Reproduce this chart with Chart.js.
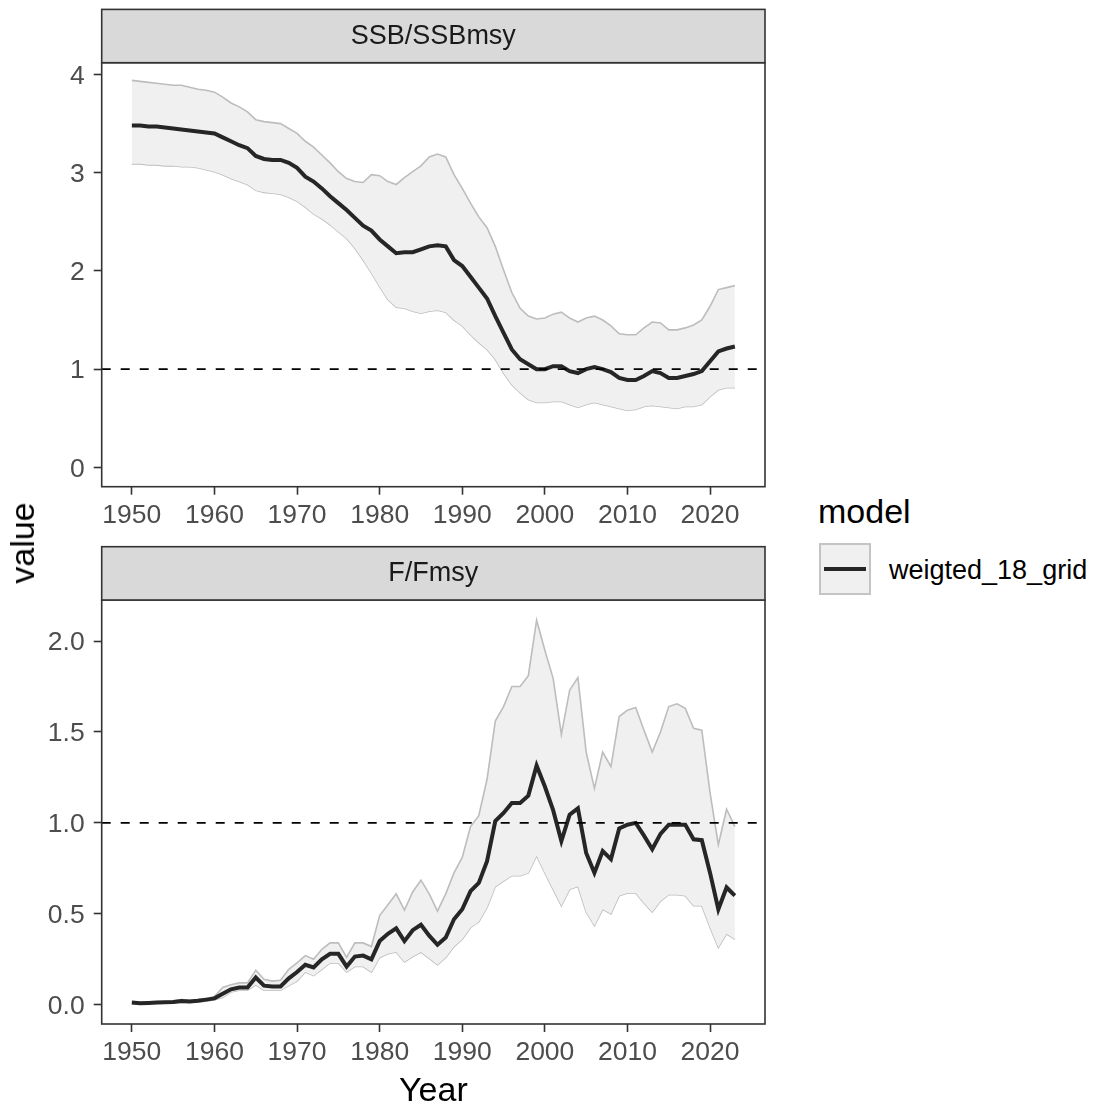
<!DOCTYPE html>
<html>
<head>
<meta charset="utf-8">
<script src="https://cdn.jsdelivr.net/npm/chart.js@4"></script>
<style>
  body { margin: 0; background: #fff; overflow: hidden; }
  #wrap { position: relative; width: 1096px; height: 1108px; font-family: "Liberation Sans", Arial, sans-serif; overflow: hidden; }
  canvas { position: absolute; left: 0; }
  #yTitle { position: absolute; left: 22px; top: 543px; transform: translate(-50%, -50%) rotate(-90deg); font-size: 34px; line-height: 34px; color: #000; white-space: nowrap; }
  #legTitle { position: absolute; left: 818px; top: 494px; font-size: 34px; line-height: 34px; color: #000; }
  #legKey { position: absolute; left: 819px; top: 543px; width: 48px; height: 48px; background: #f0f0f0; border: 2px solid #c4c4c4; }
  #legKey div { position: absolute; left: 3px; right: 3px; top: 22px; height: 4px; background: #262626; }
  #legText { position: absolute; left: 889px; top: 557px; font-size: 27px; line-height: 27px; color: #000; }
</style>
</head>
<body>
<div id="wrap">
  <canvas id="ssbChart" width="780" height="540" style="top:0"></canvas>
  <canvas id="fChart" width="780" height="572" style="top:540px"></canvas>
  <div id="yTitle">value</div>
  <div id="legTitle">model</div>
  <div id="legKey"><div></div></div>
  <div id="legText">weigted_18_grid</div>
</div>
<script>
/* ================= DATA ================= */

const years = [
  1950, 1951, 1952, 1953, 1954, 1955, 1956, 1957, 1958, 1959,
  1960, 1961, 1962, 1963, 1964, 1965, 1966, 1967, 1968, 1969,
  1970, 1971, 1972, 1973, 1974, 1975, 1976, 1977, 1978, 1979,
  1980, 1981, 1982, 1983, 1984, 1985, 1986, 1987, 1988, 1989,
  1990, 1991, 1992, 1993, 1994, 1995, 1996, 1997, 1998, 1999,
  2000, 2001, 2002, 2003, 2004, 2005, 2006, 2007, 2008, 2009,
  2010, 2011, 2012, 2013, 2014, 2015, 2016, 2017, 2018, 2019,
  2020, 2021, 2022, 2023
];

// SSB/SSBmsy
const ssbMed = [
  3.48, 3.48, 3.47, 3.47, 3.46, 3.45, 3.44, 3.43, 3.42, 3.41,
  3.40, 3.36, 3.32, 3.28, 3.25, 3.17, 3.14, 3.13, 3.13, 3.10,
  3.05, 2.96, 2.91, 2.84, 2.76, 2.69, 2.62, 2.54, 2.46, 2.41,
  2.32, 2.25, 2.18, 2.19, 2.19, 2.22, 2.25, 2.26, 2.25, 2.11,
  2.05, 1.94, 1.83, 1.72, 1.54, 1.37, 1.20, 1.10, 1.05, 1.00,
  1.00, 1.03, 1.03, 0.98, 0.96, 1.00, 1.02, 1.00, 0.97, 0.91,
  0.89, 0.89, 0.93, 0.98, 0.96, 0.91, 0.91, 0.93, 0.95, 0.98,
  1.08, 1.18, 1.21, 1.23
];
const ssbHi = [
  3.94, 3.93, 3.92, 3.91, 3.90, 3.89, 3.89, 3.87, 3.85, 3.84,
  3.82, 3.77, 3.71, 3.67, 3.62, 3.54, 3.52, 3.51, 3.50, 3.45,
  3.40, 3.32, 3.26, 3.18, 3.10, 3.01, 2.94, 2.91, 2.90, 2.98,
  2.97, 2.91, 2.88, 2.95, 3.01, 3.07, 3.16, 3.19, 3.16, 2.98,
  2.84, 2.69, 2.55, 2.44, 2.25, 2.01, 1.78, 1.62, 1.54, 1.51,
  1.52, 1.56, 1.58, 1.52, 1.48, 1.52, 1.54, 1.50, 1.44, 1.36,
  1.35, 1.35, 1.42, 1.48, 1.47, 1.40, 1.40, 1.42, 1.45, 1.50,
  1.64, 1.81, 1.83, 1.85
];
const ssbLo = [
  3.09, 3.09, 3.08, 3.08, 3.07, 3.07, 3.06, 3.06, 3.05, 3.03,
  3.01, 2.98, 2.94, 2.91, 2.88, 2.82, 2.80, 2.79, 2.78, 2.75,
  2.71, 2.65, 2.58, 2.53, 2.47, 2.40, 2.33, 2.23, 2.11, 1.98,
  1.84, 1.71, 1.63, 1.62, 1.59, 1.57, 1.59, 1.60, 1.58, 1.50,
  1.44, 1.35, 1.27, 1.20, 1.10, 0.96, 0.84, 0.76, 0.69, 0.66,
  0.66, 0.67, 0.67, 0.64, 0.61, 0.64, 0.66, 0.64, 0.62, 0.60,
  0.58, 0.59, 0.62, 0.63, 0.62, 0.61, 0.60, 0.62, 0.62, 0.64,
  0.72, 0.79, 0.81, 0.81
];

// F/Fmsy
const fMed = [
  0.012, 0.008, 0.010, 0.012, 0.013, 0.015, 0.020, 0.018, 0.022, 0.028,
  0.035, 0.06, 0.085, 0.095, 0.095, 0.15, 0.105, 0.10, 0.10, 0.145,
  0.18, 0.22, 0.205, 0.25, 0.28, 0.28, 0.21, 0.265, 0.27, 0.25,
  0.35, 0.39, 0.42, 0.35, 0.41, 0.44, 0.38, 0.33, 0.37, 0.47,
  0.525, 0.625, 0.67, 0.79, 1.01, 1.055, 1.11, 1.11, 1.15, 1.315,
  1.20, 1.07, 0.90, 1.045, 1.08, 0.835, 0.725, 0.845, 0.80, 0.97,
  0.99, 1.00, 0.93, 0.855, 0.94, 0.99, 0.99, 0.99, 0.91, 0.905,
  0.725, 0.525, 0.645, 0.60
];
const fHi = [
  0.015, 0.012, 0.014, 0.016, 0.017, 0.02, 0.028, 0.024, 0.028, 0.032,
  0.045, 0.095, 0.11, 0.12, 0.12, 0.19, 0.14, 0.13, 0.135, 0.195,
  0.23, 0.27, 0.25, 0.305, 0.34, 0.34, 0.26, 0.34, 0.34, 0.32,
  0.49, 0.55, 0.61, 0.52, 0.62, 0.685, 0.61, 0.515, 0.61, 0.725,
  0.81, 0.98, 1.04, 1.24, 1.56, 1.64, 1.75, 1.75, 1.81, 2.115,
  1.95, 1.795, 1.485, 1.73, 1.80, 1.39, 1.19, 1.39, 1.31, 1.585,
  1.62, 1.635, 1.51, 1.39, 1.50, 1.64, 1.655, 1.63, 1.52, 1.51,
  1.165, 0.88, 1.075, 0.98
];
const fLo = [
  0.005, 0.003, 0.005, 0.007, 0.008, 0.010, 0.012, 0.012, 0.015, 0.02,
  0.028, 0.04, 0.07, 0.08, 0.08, 0.11, 0.08, 0.08, 0.08, 0.105,
  0.13, 0.18, 0.16, 0.195, 0.23, 0.23, 0.18, 0.21, 0.21, 0.18,
  0.26, 0.28, 0.29, 0.235, 0.265, 0.29, 0.255, 0.22, 0.26, 0.32,
  0.36, 0.425, 0.455, 0.535, 0.65, 0.68, 0.71, 0.71, 0.725, 0.82,
  0.725, 0.635, 0.545, 0.635, 0.65, 0.51, 0.435, 0.525, 0.50, 0.60,
  0.615, 0.615, 0.56, 0.51, 0.57, 0.605, 0.605, 0.60, 0.545, 0.545,
  0.425, 0.315, 0.39, 0.36
];

const xTicks = [1950, 1960, 1970, 1980, 1990, 2000, 2010, 2020];
const ssbTicks = [0, 1, 2, 3, 4];
const fTicks = [0, 0.5, 1, 1.5, 2];
const refLine = 1;

/* ================= HELPERS ================= */

const FONT = "'Liberation Sans', Arial, sans-serif";
const xMin = 1946.35, xMax = 2026.65;

const pts = arr => arr.map((v, i) => ({ x: years[i], y: v }));

// grey strip + panel border, like facet_wrap with theme_bw
const facetPlugin = {
  id: "facet",
  afterDraw(chart, args, opts) {
    const { ctx, chartArea: a } = chart;
    ctx.save();
    ctx.lineWidth = 1.6;
    ctx.strokeStyle = "#333333";
    ctx.strokeRect(a.left, a.top, a.right - a.left, a.bottom - a.top);
    const h = 53.3;
    ctx.fillStyle = "#d9d9d9";
    ctx.fillRect(a.left, a.top - h, a.right - a.left, h);
    ctx.strokeRect(a.left, a.top - h, a.right - a.left, h);
    ctx.fillStyle = "#1a1a1a";
    ctx.font = "27px " + FONT;
    ctx.textAlign = "center";
    ctx.textBaseline = "middle";
    ctx.fillText(opts.label, (a.left + a.right) / 2, a.top - h / 2);
    ctx.restore();
  }
};

function makePanel(id, label, med, hi, lo, yMin, yMax, yTicks, yFmt, topPad, axisH, showTitle) {
  new Chart(document.getElementById(id), {
    type: "line",
    data: {
      datasets: [
        {
          data: [{ x: xMin, y: refLine }, { x: xMax, y: refLine }],
          borderColor: "#000",
          borderWidth: 1.6,
          borderDash: [9, 10],
          pointRadius: 0,
          fill: false,
          order: 0
        },
        {
          data: pts(med),
          borderColor: "#262626",
          borderWidth: 4,
          pointRadius: 0,
          fill: false,
          order: 1
        },
        {
          data: pts(hi),
          borderColor: "#bdbdbd",
          borderWidth: 1.6,
          backgroundColor: "#f0f0f0",
          pointRadius: 0,
          fill: "+1",
          order: 2
        },
        {
          data: pts(lo),
          borderColor: "#bdbdbd",
          borderWidth: 1.6,
          pointRadius: 0,
          fill: false,
          order: 3
        }
      ]
    },
    options: {
      responsive: false,
      animation: false,
      layout: { padding: { top: topPad, right: 15, left: 0, bottom: 0 } },
      plugins: {
        legend: { display: false },
        tooltip: { enabled: false },
        facet: { label: label }
      },
      scales: {
        x: {
          type: "linear",
          min: xMin,
          max: xMax,
          afterBuildTicks: s => { s.ticks = xTicks.map(v => ({ value: v })); },
          afterFit: s => { s.height = axisH; },
          grid: { drawOnChartArea: false, tickLength: 8, tickColor: "#333", tickWidth: 1.6 },
          border: { display: false },
          ticks: { color: "#4d4d4d", font: { family: FONT, size: 26.5 }, padding: 5, maxRotation: 0, callback: v => String(v) },
          title: { display: showTitle, text: "Year", color: "#000", font: { family: FONT, size: 34 }, padding: { top: 0, bottom: 0 } }
        },
        y: {
          min: yMin,
          max: yMax,
          afterBuildTicks: s => { s.ticks = yTicks.map(v => ({ value: v })); },
          afterFit: s => { s.width = 101.7; },
          grid: { drawOnChartArea: false, tickLength: 8, tickColor: "#333", tickWidth: 1.6 },
          border: { display: false },
          ticks: { color: "#4d4d4d", font: { family: FONT, size: 26.5 }, padding: 9, labelOffset: 2, callback: yFmt }
        }
      }
    },
    plugins: [facetPlugin]
  });
}

/* ================= PANELS ================= */

makePanel("ssbChart", "SSB/SSBmsy", ssbMed, ssbHi, ssbLo, -0.197, 4.12, ssbTicks, v => String(v), 62.7, 53.3, false);
makePanel("fChart", "F/Fmsy", fMed, fHi, fLo, -0.106, 2.226, fTicks, v => v.toFixed(1), 60, 88, true);
</script>
</body>
</html>
